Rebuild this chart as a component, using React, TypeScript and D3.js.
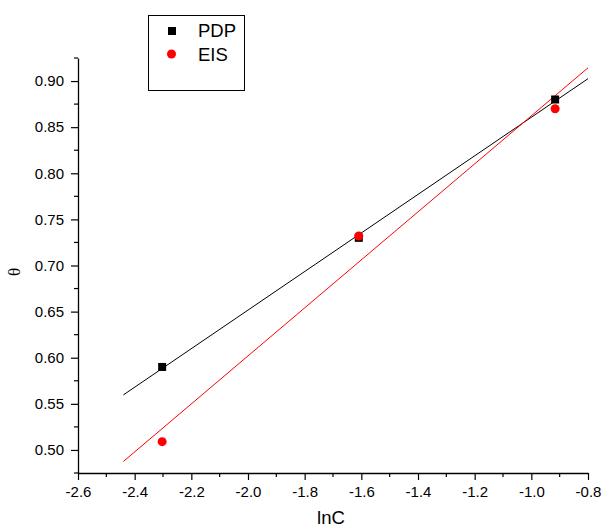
import React, { useEffect, useRef } from "react";
import * as d3 from "d3";

// lnC values (ln 0.1, ln 0.2, ln 0.4)
const lnC = [-2.303, -1.609, -0.916];
const pdpTheta = [0.59, 0.73, 0.88];
const eisTheta = [0.509, 0.732, 0.87];

const xTicks = [-2.6, -2.4, -2.2, -2.0, -1.8, -1.6, -1.4, -1.2, -1.0, -0.8];
const yTicks = [0.5, 0.55, 0.6, 0.65, 0.7, 0.75, 0.8, 0.85, 0.9];

// x range covered by the fitted lines
const fitRange = [-2.44, -0.8];

const linearFit = (xs: number[], ys: number[]) => {
  const mx = d3.mean(xs) as number;
  const my = d3.mean(ys) as number;
  let num = 0;
  let den = 0;
  xs.forEach((x, i) => {
    num += (x - mx) * (ys[i] - my);
    den += (x - mx) * (x - mx);
  });
  const slope = num / den;
  return (x: number) => my + slope * (x - mx);
};

const App = () => {
  const svgRef = useRef<SVGSVGElement | null>(null);

  useEffect(() => {
    if (!svgRef.current) return;
    const width = 602;
    const height = 529;
    const font = "'Liberation Sans', Arial, sans-serif";

    const svg = d3.select(svgRef.current);
    svg.selectAll("*").remove();
    svg.attr("width", width).attr("height", height).style("background", "#fff");

    const x = d3.scaleLinear().domain([-2.6, -0.8]).range([78, 588]);
    const y = d3.scaleLinear().domain([0.475, 0.925]).range([473, 58]);

    // X axis
    const xAxis = svg
      .append("g")
      .attr("transform", `translate(0,${y(0.475)})`)
      .call(
        d3
          .axisBottom(x)
          .tickValues(xTicks)
          .tickSize(7)
          .tickSizeOuter(0)
          .tickPadding(6)
          .tickFormat((d) => (+d).toFixed(1))
      );
    xAxis.selectAll("text").style("font-family", font).style("font-size", "15px").attr("fill", "#000");

    // minor x ticks
    svg
      .append("g")
      .selectAll("line")
      .data(d3.range(-2.5, -0.8, 0.2))
      .enter()
      .append("line")
      .attr("x1", (d) => x(d))
      .attr("x2", (d) => x(d))
      .attr("y1", y(0.475))
      .attr("y2", y(0.475) + 4)
      .attr("stroke", "#000")
      .attr("stroke-width", 1.2);

    // Y axis
    const yAxis = svg
      .append("g")
      .attr("transform", `translate(${x(-2.6)},0)`)
      .call(
        d3
          .axisLeft(y)
          .tickValues(yTicks)
          .tickSize(7)
          .tickSizeOuter(0)
          .tickPadding(7)
          .tickFormat((d) => (+d).toFixed(2))
      );
    yAxis.selectAll("text").style("font-family", font).style("font-size", "15px").attr("fill", "#000");

    // minor y ticks
    svg
      .append("g")
      .selectAll("line")
      .data(d3.range(0.475, 0.93, 0.05))
      .enter()
      .append("line")
      .attr("x1", x(-2.6) - 4)
      .attr("x2", x(-2.6))
      .attr("y1", (d) => y(d))
      .attr("y2", (d) => y(d))
      .attr("stroke", "#000")
      .attr("stroke-width", 1.2);

    svg.selectAll(".domain").attr("stroke-width", 1.3);
    svg.selectAll(".tick line").attr("stroke-width", 1.2);

    // Fitted lines
    const fits = [
      { ys: pdpTheta, color: "#000" },
      { ys: eisTheta, color: "#ff0000" },
    ];
    fits.forEach((f) => {
      const fn = linearFit(lnC, f.ys);
      svg
        .append("path")
        .datum(fitRange)
        .attr("fill", "none")
        .attr("stroke", f.color)
        .attr("stroke-width", 1)
        .attr(
          "d",
          d3
            .line<number>()
            .x((d) => x(d))
            .y((d) => y(fn(d)))
        );
    });

    // PDP squares
    svg
      .selectAll(".pdp")
      .data(lnC)
      .enter()
      .append("rect")
      .attr("x", (d) => x(d) - 4)
      .attr("y", (d, i) => y(pdpTheta[i]) - 4)
      .attr("width", 8)
      .attr("height", 8)
      .attr("fill", "#000");

    // EIS circles
    svg
      .selectAll(".eis")
      .data(lnC)
      .enter()
      .append("circle")
      .attr("cx", (d) => x(d))
      .attr("cy", (d, i) => y(eisTheta[i]))
      .attr("r", 4.5)
      .attr("fill", "#ff0000");

    // Axis titles
    svg
      .append("text")
      .attr("x", (x(-2.6) + x(-0.8)) / 2 - 2)
      .attr("y", 524)
      .attr("text-anchor", "middle")
      .style("font-family", font)
      .style("font-size", "18.5px")
      .text("lnC");

    svg
      .append("text")
      .attr("transform", "translate(20,272) rotate(-90)")
      .attr("text-anchor", "middle")
      .style("font-family", "'Liberation Serif', serif")
      .style("font-size", "17px")
      .text("θ");

    // Legend
    const legend = svg.append("g");
    legend
      .append("rect")
      .attr("x", 148.5)
      .attr("y", 15.5)
      .attr("width", 96)
      .attr("height", 75)
      .attr("fill", "#fff")
      .attr("stroke", "#000")
      .attr("stroke-width", 1);
    legend
      .append("rect")
      .attr("x", 168)
      .attr("y", 27)
      .attr("width", 8)
      .attr("height", 8)
      .attr("fill", "#000");
    legend
      .append("text")
      .attr("x", 198)
      .attr("y", 37)
      .style("font-family", font)
      .style("font-size", "18.5px")
      .text("PDP");
    legend
      .append("circle")
      .attr("cx", 171.5)
      .attr("cy", 54)
      .attr("r", 4.5)
      .attr("fill", "#ff0000");
    legend
      .append("text")
      .attr("x", 198)
      .attr("y", 61)
      .style("font-family", font)
      .style("font-size", "18.5px")
      .text("EIS");
  }, []);

  return (
    <svg
      ref={svgRef}
      style={{ position: "absolute", left: 0, top: 0, display: "block" }}
    ></svg>
  );
};

export default App;
